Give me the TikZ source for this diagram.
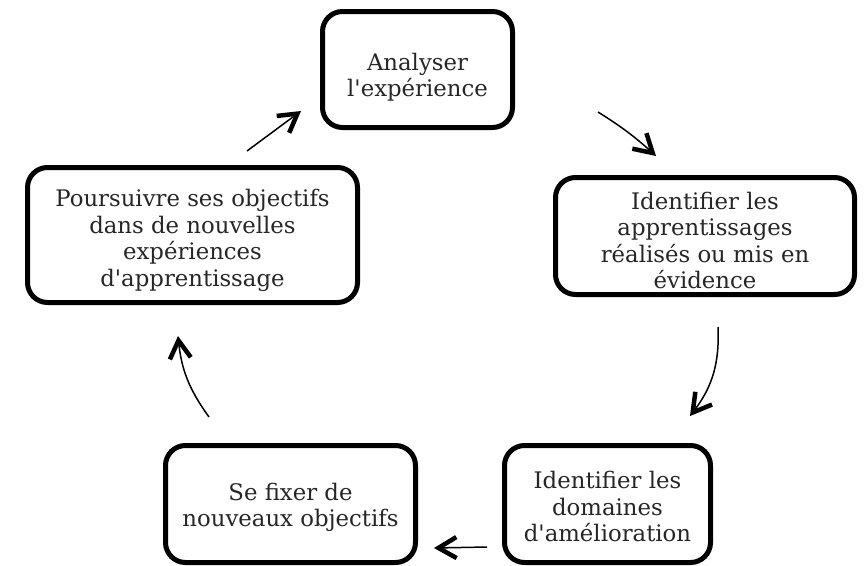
\documentclass[tikz,border=0pt]{standalone}
\usepackage{fontspec}
\setmainfont{DejaVu Serif}
\usetikzlibrary{arrows.meta,positioning}

\begin{document}
\begin{tikzpicture}[x=1pt,y=-1pt,>={Straight Barb[length=18pt,width=21pt,line width=0pt 3]},
  line width=1.5pt,main node/.style={draw,line width=5pt,rounded corners=20pt,align=center,
  inner sep=0pt,text=black!85,font=\fontsize{22.8}{26.5}\selectfont}]

  \useasboundingbox (0,0) rectangle (866,565);

  \node[main node, minimum width=190, minimum height=116, text height=59pt] (1) at (417.5,69.5) {Analyser\\l\textquotesingle exp\'erience};
  \node[main node, minimum width=299, minimum height=117, text height=106pt] (2) at (705,236) {Identifier les\\apprentissages\\r\'ealis\'es ou mis en\\\'evidence};
  \node[main node, minimum width=206, minimum height=117, text height=76pt] (3) at (607.5,504) {Identifier les\\domaines\\d\textquotesingle am\'elioration};
  \node[main node, minimum width=250, minimum height=117, text height=51pt] (4) at (290.5,504) {Se fixer de\\nouveaux objectifs};
  \node[main node, minimum width=330, minimum height=135, text height=108pt] (5) at (192.5,235) {Poursuivre ses objectifs\\dans de nouvelles\\exp\'eriences\\d\textquotesingle apprentissage};

  % arrow ends
  \coordinate (a1) at (247,151);
  \coordinate (a2) at (301,111);
  \coordinate (b1) at (598,112);
  \coordinate (b2) at (656,156);
  \coordinate (c1) at (718,327);
  \coordinate (c2) at (690,416);
  \coordinate (d1) at (487,547);
  \coordinate (d2) at (434,548);
  \coordinate (e1) at (209,417);
  \coordinate (e2) at (178,336);

  \path[->]
    (a1) edge (a2)
    (b1) edge [bend left=5] (b2)
    (c1) edge [bend left=20] (c2)
    (d1) edge (d2)
    (e1) edge [bend left=15] (e2);

\end{tikzpicture}
\end{document}
